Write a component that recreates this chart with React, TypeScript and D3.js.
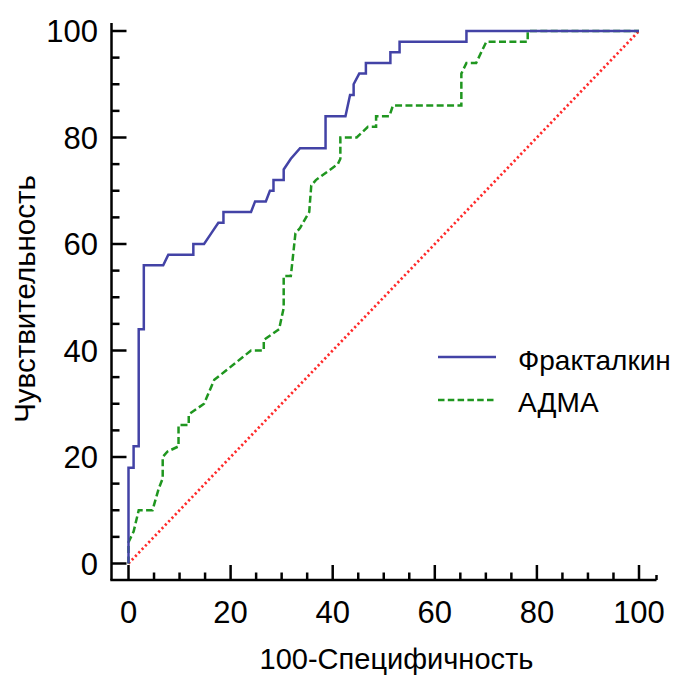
import React from "react";
import * as d3 from "d3";

// Fракталкин ROC curve: [100-specificity, sensitivity]
const fractalkine: [number, number][] = [
  [0, 0], [0, 18], [1, 18], [1, 22], [2, 22], [2, 44], [3, 44], [3, 56],
  [6.8, 56], [7.8, 58], [12.7, 58], [12.7, 60], [14.8, 60], [16.2, 62],
  [17.6, 64], [18.6, 64], [18.6, 66], [24, 66], [24.8, 68], [26.9, 68],
  [27.7, 70], [28.4, 70], [28.4, 72], [30.4, 72], [30.4, 74], [31.8, 76],
  [33.6, 78], [38.6, 78], [38.6, 84], [42.5, 84], [43.4, 88], [44.1, 88],
  [44.1, 90], [45.2, 92], [46.5, 92], [46.5, 94], [51.3, 94], [51.3, 96],
  [53.1, 96], [53.1, 98], [66.2, 98], [66.2, 100], [100, 100],
];

// АДМА ROC curve
const adma: [number, number][] = [
  [0, 0], [0, 4], [1, 6], [2, 10], [4.7, 10], [5.9, 14], [6.7, 16], [6.7, 20],
  [7.6, 21], [9.8, 22], [9.8, 26], [11.8, 26], [11.8, 28], [14.8, 30],
  [16.8, 34.5], [18.8, 36], [24, 40], [26.5, 40], [26.5, 42], [29.5, 44],
  [30.4, 48], [30.4, 54], [31.8, 54], [32.7, 62], [33.6, 63], [35.4, 66],
  [35.8, 71], [36.7, 72], [41, 75], [41.5, 76], [41.5, 80], [44.7, 80],
  [46.9, 82], [48.5, 82], [48.5, 84], [51.1, 84], [51.8, 86], [65.2, 86],
  [65.2, 92], [66.2, 94], [68.1, 94], [70.1, 98], [78.2, 98], [78.2, 100],
  [100, 100],
];

const diagonal: [number, number][] = [[0, 0], [100, 100]];

const majorTicks = [0, 20, 40, 60, 80, 100];
const minorTicks = [5, 10, 15, 25, 30, 35, 45, 50, 55, 65, 70, 75, 85, 90, 95];

const seriesNames = ["Фракталкин", "АДМА"];
const xTitle = "100-Специфичность";
const yTitle = "Чувствительность";

const FONT = "'Liberation Sans', Arial, sans-serif";

export default function App() {
  const x = d3.scaleLinear().domain([0, 100]).range([128.5, 639]);
  const y = d3.scaleLinear().domain([0, 100]).range([563.5, 31]);
  const line = d3
    .line<[number, number]>()
    .x((d) => x(d[0]))
    .y((d) => y(d[1]));

  const axisX = 111.5;
  const axisY = 580;

  return (
    <svg
      width={680}
      height={675}
      style={{ position: "absolute", left: 0, top: 0, background: "#fff" }}
    >
      {/* diagonal reference */}
      <path
        d={line(diagonal) || ""}
        fill="none"
        stroke="#ff2a2a"
        strokeWidth={2.7}
        strokeDasharray="2.2 2.6"
      />
      {/* ADMA */}
      <path
        d={line(adma) || ""}
        fill="none"
        stroke="#1f961f"
        strokeWidth={2.5}
        strokeDasharray="7 3.4"
      />
      {/* Fractalkine */}
      <path
        d={line(fractalkine) || ""}
        fill="none"
        stroke="#4343a6"
        strokeWidth={2.5}
      />

      {/* axes */}
      <g stroke="#000" strokeWidth={2.5} fill="none">
        <line x1={axisX} y1={23} x2={axisX} y2={axisY} />
        <line x1={axisX - 1.2} y1={axisY} x2={656.5} y2={axisY} />
        <line x1={656.5} y1={axisY} x2={656.5} y2={axisY - 5} />
        {majorTicks.map((t) => (
          <line key={"ym" + t} x1={axisX} x2={axisX + 15} y1={y(t)} y2={y(t)} />
        ))}
        {minorTicks.map((t) => (
          <line key={"yn" + t} x1={axisX} x2={axisX + 8} y1={y(t)} y2={y(t)} />
        ))}
        {majorTicks.map((t) => (
          <line key={"xm" + t} x1={x(t)} x2={x(t)} y1={axisY} y2={axisY - 15} />
        ))}
        {minorTicks.map((t) => (
          <line key={"xn" + t} x1={x(t)} x2={x(t)} y1={axisY} y2={axisY - 7.5} />
        ))}
      </g>

      {/* tick labels */}
      <g fontFamily={FONT} fontSize={31} fill="#000">
        {majorTicks.map((t) => (
          <text key={"yl" + t} x={98} y={y(t) + 11} textAnchor="end">
            {t}
          </text>
        ))}
        {majorTicks.map((t) => (
          <text key={"xl" + t} x={x(t)} y={623} textAnchor="middle">
            {t}
          </text>
        ))}
      </g>

      {/* axis titles */}
      <text
        x={396.5}
        y={669}
        textAnchor="middle"
        fontFamily={FONT}
        fontSize={29}
        fill="#000"
      >
        {xTitle}
      </text>
      <text
        transform="translate(35,299) rotate(-90)"
        textAnchor="middle"
        fontFamily={FONT}
        fontSize={29.5}
        fill="#000"
      >
        {yTitle}
      </text>

      {/* legend */}
      <line x1={438} x2={496} y1={357} y2={357} stroke="#4343a6" strokeWidth={2.5} />
      <line
        x1={438}
        x2={496}
        y1={400}
        y2={400}
        stroke="#1f961f"
        strokeWidth={2.5}
        strokeDasharray="6.5 3.3"
      />
      <text x={518} y={370} fontFamily={FONT} fontSize={28} fill="#000">
        {seriesNames[0]}
      </text>
      <text x={518} y={412} fontFamily={FONT} fontSize={28} fill="#000">
        {seriesNames[1]}
      </text>
    </svg>
  );
}
